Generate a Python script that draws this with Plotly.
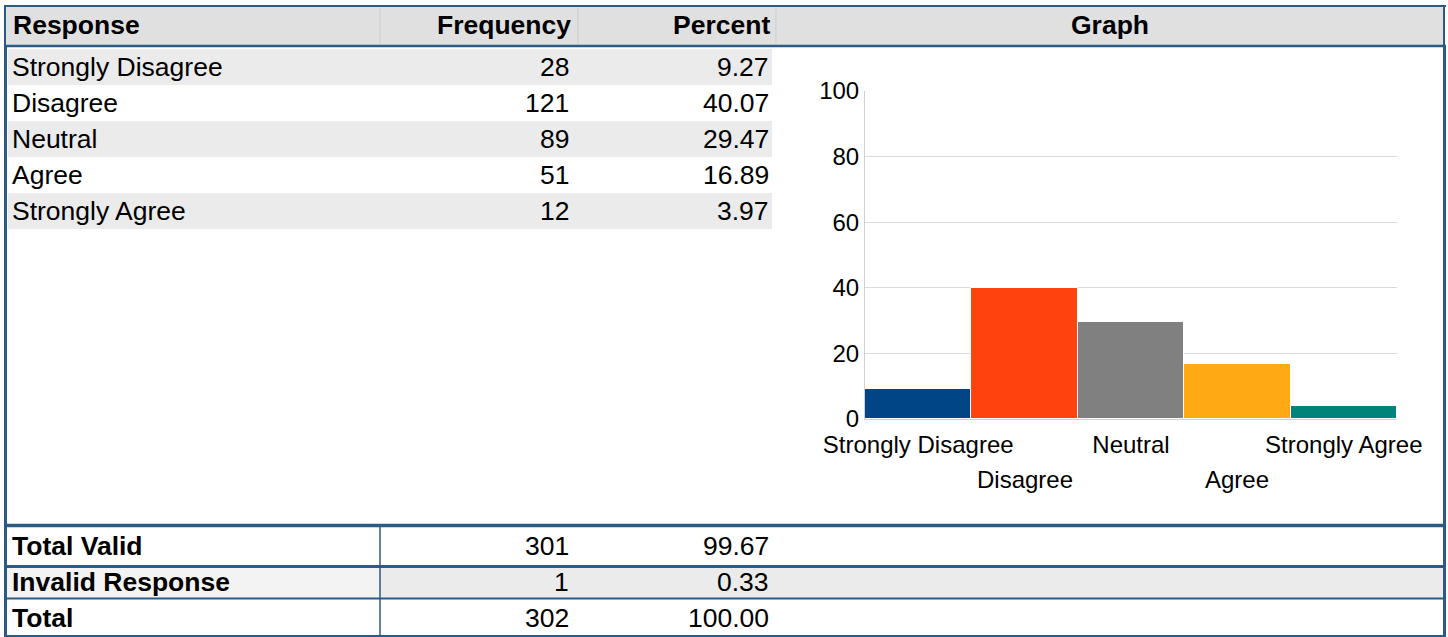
import plotly.graph_objects as go

# ---------------- data ----------------
responses = ["Strongly Disagree", "Disagree", "Neutral", "Agree", "Strongly Agree"]
frequencies = [28, 121, 89, 51, 12]
percents = [9.27, 40.07, 29.47, 16.89, 3.97]

summary_labels = ["Total Valid", "Invalid Response", "Total"]
summary_freq = [301, 1, 302]
summary_pct = ["99.67", "0.33", "100.00"]

headers = ["Response", "Frequency", "Percent", "Graph"]
bar_colors = ["#004586", "#FF420E", "#808080", "#FFAA14", "#00837A"]
y_ticks = [0, 20, 40, 60, 80, 100]

# ---------------- layout helpers ----------------
W, H = 1448, 637
BLUE = "#2B5A85"
FONT = "Liberation Sans, Arial, sans-serif"


def px(x):
    return x / W


def py(y):
    return 1 - y / H


shapes = []
annotations = []


def rect(x0, y0, x1, y1, fill):
    shapes.append(dict(type="rect", xref="paper", yref="paper",
                       x0=px(x0), x1=px(x1), y0=py(y1), y1=py(y0),
                       fillcolor=fill, line=dict(width=0), layer="below"))


def line(x0, y0, x1, y1, color=BLUE, width=2):
    shapes.append(dict(type="line", xref="paper", yref="paper",
                       x0=px(x0), x1=px(x1), y0=py(y0), y1=py(y1),
                       line=dict(color=color, width=width)))


def text(x, y, s, anchor="left", bold=False, size=26.5):
    annotations.append(dict(xref="paper", yref="paper", x=px(x), y=py(y),
                            text=f"<b>{s}</b>" if bold else s, showarrow=False,
                            xanchor=anchor, yanchor="middle",
                            font=dict(family=FONT, size=size, color="black")))


# header
rect(6, 7, 1443, 45, "#E0E0E0")
for xs in (380, 578, 776):
    line(xs, 8, xs, 44, color="#C5CFD9", width=1)
line(4, 6, 1446, 6, width=2)
line(4, 46, 1446, 46, width=2.5)
line(5, 6, 5, 46, width=2)
line(1444, 6, 1444, 46, width=2)
text(11, 25, headers[0], bold=True)
text(573, 25, headers[1], anchor="right", bold=True)
text(772, 25, headers[2], anchor="right", bold=True)
text(1110, 25, headers[3], anchor="center", bold=True)

# data rows
row_top, row_h = 49, 36
for i, (r, f, p) in enumerate(zip(responses, frequencies, percents)):
    y0 = row_top + i * row_h
    if i % 2 == 0:
        rect(8, y0, 772, y0 + row_h, "#EBEBEB")
    yc = y0 + row_h / 2
    text(10, yc, r)
    text(571, yc, str(f), anchor="right")
    text(771, yc, f"{p:.2f}", anchor="right")

# summary rows
rect(7, 568, 1443, 598, "#EBEBEB")
rect(7, 568, 379, 598, "#F3F3F3")
sum_centers = [546, 582, 618]
for lab, f, p, yc in zip(summary_labels, summary_freq, summary_pct, sum_centers):
    text(10, yc, lab, bold=True)
    text(571, yc, str(f), anchor="right")
    text(771, yc, p, anchor="right")

line(4, 525.5, 1446, 525.5, width=3.5)
line(4, 566.5, 1446, 566.5, width=3)
line(4, 598.5, 1446, 598.5, width=2)
line(4, 636, 1446, 636, width=2)
line(380, 527, 380, 636, width=1.5)
line(5.5, 46, 5.5, 637, width=3)
line(1444.5, 46, 1444.5, 637, width=3)

# ---------------- chart ----------------
# even categories use the axis tick labels, odd ones are staggered on a second row
tick_text = [r if i % 2 == 0 else "" for i, r in enumerate(responses)]
for i, r in enumerate(responses):
    if i % 2 == 1:
        annotations.append(dict(xref="x", yref="paper", x=r, y=py(479),
                                text=r, showarrow=False, xanchor="center",
                                yanchor="middle",
                                font=dict(family=FONT, size=24, color="black")))

fig = go.Figure(go.Bar(
    x=responses, y=percents,
    marker=dict(color=bar_colors, line=dict(color="white", width=1)),
    showlegend=False, hoverinfo="x+y",
))

fig.update_layout(
    template="none",
    width=W, height=H,
    margin=dict(l=0, r=0, t=0, b=0, pad=0),
    autosize=False,
    paper_bgcolor="white", plot_bgcolor="white",
    bargap=0,
    shapes=shapes, annotations=annotations,
    font=dict(family=FONT, color="black"),
    xaxis=dict(domain=[px(865), px(1397)], anchor="y", automargin=False,
               tickmode="array", tickvals=responses, ticktext=tick_text,
               tickangle=0, ticklabelstandoff=4,
               tickfont=dict(family=FONT, size=24, color="black"),
               showline=True, linecolor="#D0D0D0", linewidth=1,
               showgrid=False, ticks="", zeroline=False),
    yaxis=dict(domain=[py(419), py(91)], range=[0, 100], automargin=False,
               tickmode="array", tickvals=y_ticks,
               tickfont=dict(family=FONT, size=24, color="black"),
               showline=True, linecolor="#D0D0D0", linewidth=1,
               showgrid=True, gridcolor="#DADADA", gridwidth=1,
               zeroline=False, ticks=""),
)

fig.write_html("out.html",
               config={"displayModeBar": False},
               post_script="document.body.style.margin='0';document.body.style.overflow='hidden';")
